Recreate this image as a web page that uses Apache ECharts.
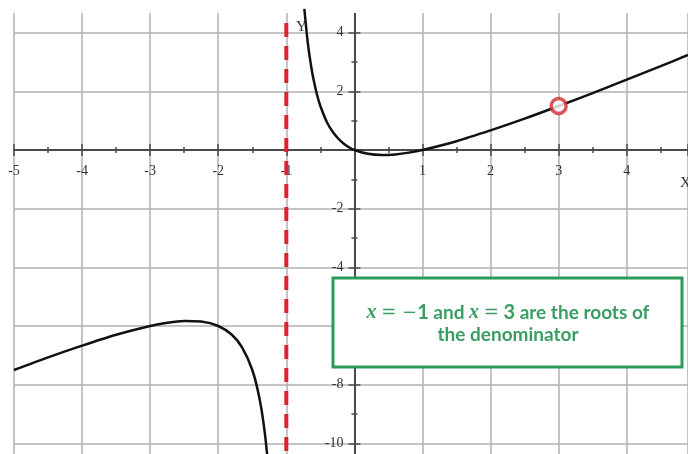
<!DOCTYPE html>
<html>
<head>
<meta charset="utf-8">
<script src="https://cdn.jsdelivr.net/npm/echarts@6/dist/echarts.min.js"></script>
<style>
  html, body { margin: 0; padding: 0; background: #fff; }
  #chart { width: 688px; height: 454px; }
</style>
</head>
<body>
<div id="chart"></div>
<script>
// Left branch of the curve (x < -1)
const leftX = [-5, -4.5, -4, -3.5, -3, -2.75, -2.5, -2.25, -2, -1.8, -1.65, -1.5, -1.4, -1.33, -1.27, -1.22];
const leftY = [-7.5, -7.07, -6.67, -6.3, -6.0, -5.89, -5.83, -5.85, -6.0, -6.3, -6.73, -7.5, -8.4, -9.39, -10.68, -12.31];

// Right branch of the curve (x > -1)
const rightX = [-0.735, -0.7, -0.67, -0.63, -0.6, -0.55, -0.5, -0.4, -0.3, -0.2, -0.1, 0, 0.2, 0.4, 0.6, 0.8, 1, 1.5, 2, 2.5, 3, 3.5, 4, 4.5, 4.9];
const rightY = [4.81, 3.97, 3.39, 2.78, 2.4, 1.89, 1.5, 0.93, 0.56, 0.3, 0.12, 0, -0.13, -0.17, -0.15, -0.09, 0, 0.3, 0.67, 1.07, 1.5, 1.94, 2.4, 2.86, 3.24];

// Vertical asymptote and removable hole
const asymptoteX = -1;
const asymptoteYRange = [4.33, -12];
const holePoint = [3, 1.5];

// Axis ranges and ticks
const xRange = [-5, 4.9];
const yRange = [-12, 6];
const xStep = 1;
const yStep = 2;

const noteLine1 = '{i|x} {m|= \u2212}{b|1} and {i|x} {m|=} {b|3} are the roots of';
const noteLine2 = 'the denominator';

const pair = (xs, ys) => xs.map((x, i) => [x, ys[i]]);

// Plot box (extends past the canvas so that the visible window is a slice of it)
const W = 688;
const gridLeft = 14, gridWidth = W - gridLeft;
const gridTop = -26, gridHeight = 528;
// pixel position of the zero lines, used to pin the axes on the origin
const zeroPx = gridLeft + gridWidth * (0 - xRange[0]) / (xRange[1] - xRange[0]);
const zeroPy = gridTop + gridHeight * (yRange[1] - 0) / (yRange[1] - yRange[0]);

const gridColor = '#b0b0b0';
const axisColor = '#4a4a4a';
const labelFont = { fontFamily: 'Liberation Serif', fontSize: 14, color: '#333' };

const chart = echarts.init(document.getElementById('chart'));

const intLabel = v => (Math.abs(v - Math.round(v)) < 1e-6 && Math.round(v) !== 0) ? String(Math.round(v)) : '';

const tickStyle = { color: axisColor, width: 1.5 };
const baseX = {
  type: 'value', min: xRange[0], max: xRange[1], interval: xStep,
  axisTick: { show: true, length: 6, lineStyle: tickStyle },
  minorTick: { show: true, splitNumber: 2, length: 3, lineStyle: tickStyle }
};
const baseY = {
  type: 'value', min: yRange[0], max: yRange[1], interval: yStep,
  axisTick: { show: true, length: 6, lineStyle: tickStyle },
  minorTick: { show: true, splitNumber: 2, length: 3, lineStyle: tickStyle }
};

const noteColor = '#3a9d63';

chart.setOption({
  animation: false,
  backgroundColor: '#fff',
  grid: { left: gridLeft, right: 0, top: gridTop, height: gridHeight, containLabel: false, outerBoundsMode: 'none' },
  xAxis: [
    Object.assign({}, baseX, {
      position: 'bottom',
      offset: -(gridTop + gridHeight - zeroPy),
      axisLine: { onZero: false, lineStyle: { color: axisColor, width: 2 } },
      splitLine: { show: true, lineStyle: { color: gridColor, width: 1.5 } },
      axisLabel: Object.assign({ margin: 14, showMaxLabel: false, formatter: intLabel }, labelFont)
    }),
    Object.assign({}, baseX, {
      position: 'top',
      offset: -(zeroPy - gridTop),
      axisLine: { onZero: false, show: false },
      splitLine: { show: false },
      axisLabel: { show: false }
    })
  ],
  yAxis: [
    Object.assign({}, baseY, {
      position: 'left',
      offset: -(zeroPx - gridLeft),
      axisLine: { onZero: false, lineStyle: { color: axisColor, width: 2 } },
      splitLine: { show: true, lineStyle: { color: gridColor, width: 1.5 } },
      axisLabel: Object.assign({ margin: 11, showMinLabel: false, showMaxLabel: false, formatter: v => (v === 0 || v >= 6) ? '' : String(v) }, labelFont)
    }),
    Object.assign({}, baseY, {
      position: 'right',
      offset: -(W - zeroPx),
      axisLine: { onZero: false, show: false },
      splitLine: { show: false },
      axisLabel: { show: false }
    })
  ],
  graphic: [
    // blank strip above the plotting area
    { type: 'rect', z: 1, shape: { x: 0, y: 0, width: W, height: 13 }, style: { fill: '#fff' } },
    { type: 'text', z: 3, x: 296, y: 20, style: { text: 'Y', fontFamily: 'Liberation Serif', fontSize: 15, fill: '#333' } },
    { type: 'text', z: 3, x: 680, y: 176, style: { text: 'X', fontFamily: 'Liberation Serif', fontSize: 15, fill: '#333' } },
    // annotation box
    { type: 'rect', z: 100, zlevel: 1, shape: { x: 333, y: 278, width: 349, height: 89 },
      style: { fill: '#fff', stroke: '#2c9a58', lineWidth: 3 } },
    { type: 'text', z: 101, zlevel: 1, x: 508, y: 324,
      style: {
        text: noteLine1 + '\n' + noteLine2,
        align: 'center', verticalAlign: 'middle',
        fontFamily: 'Lato', fontWeight: 'bold', fontSize: 19, lineHeight: 22, fill: noteColor,
        rich: {
          i: { fontFamily: 'Liberation Serif', fontStyle: 'italic', fontWeight: 'bold', fontSize: 20, fill: noteColor, lineHeight: 22 },
          m: { fontFamily: 'DejaVu Serif', fontSize: 18, fill: noteColor, lineHeight: 22 },
          b: { fontFamily: 'Lato', fontWeight: 'bold', fontSize: 20, fill: noteColor, lineHeight: 22 }
        }
      } }
  ],
  series: [
    {
      name: 'asymptote', type: 'line', xAxisIndex: 0, yAxisIndex: 0, z: 3,
      data: asymptoteYRange.map(y => [asymptoteX, y]),
      showSymbol: false, silent: true,
      lineStyle: { color: '#d8262e', width: 4, type: [14, 9] }
    },
    {
      name: 'left', type: 'line', xAxisIndex: 0, yAxisIndex: 0, z: 4,
      data: pair(leftX, leftY), showSymbol: false, smooth: 0.3,
      lineStyle: { color: '#111', width: 2.5 }
    },
    {
      name: 'right', type: 'line', xAxisIndex: 0, yAxisIndex: 0, z: 4,
      data: pair(rightX, rightY), showSymbol: false, smooth: 0.3,
      lineStyle: { color: '#111', width: 2.5 }
    },
    {
      name: 'hole', type: 'scatter', xAxisIndex: 0, yAxisIndex: 0, z: 5,
      data: [holePoint], symbol: 'circle', symbolSize: 15,
      itemStyle: { color: '#fff', borderColor: '#d42a2f', borderWidth: 3.5 }
    }
  ]
});
</script>
</body>
</html>
